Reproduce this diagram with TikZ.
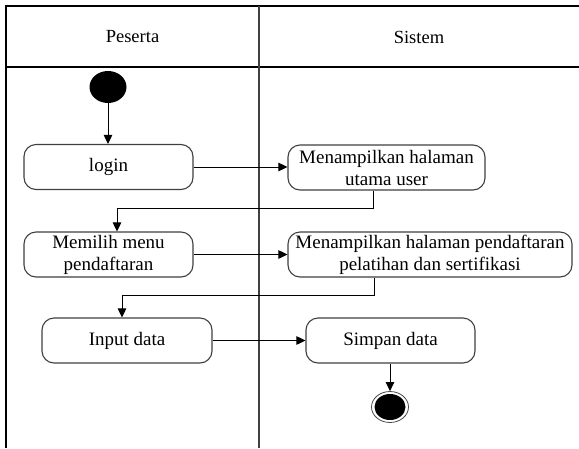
\documentclass[tikz,border=0pt]{standalone}
\usepackage{fontspec}
\setmainfont{Liberation Serif}
\usetikzlibrary{arrows.meta,shapes.geometric}

\tikzset{
  lane/.style={line width=1.3pt, draw=black},
  divider/.style={line width=1.3pt, draw=black!75},
  act/.style={draw=black!75, line width=1.1pt, rounded corners=12pt, fill=white,
              align=center, inner sep=0pt, minimum height=45pt,
              font=\fontsize{19}{22}\selectfont},
  title/.style={font=\fontsize{18.5}{21.5}\selectfont},
  flow/.style={line width=0.9pt, -{Triangle[length=9pt,width=8.5pt]}},
  startnode/.style={ellipse, fill=black, minimum width=37pt, minimum height=32pt, inner sep=0pt},
  endouter/.style={ellipse, draw=black!70, line width=0.8pt, fill=white,
                   minimum width=37pt, minimum height=31pt, inner sep=0pt},
  endinner/.style={ellipse, fill=black, minimum width=31pt, minimum height=26pt, inner sep=0pt}
}

\begin{document}
\begin{tikzpicture}[x=1pt,y=-1pt]
  \useasboundingbox (0,0) rectangle (579,448);

  % swimlane frame
  \draw[lane] (579,6) -- (6,6) -- (6,448);
  \draw[lane] (6,67) -- (579,67);
  \draw[divider] (259,6) -- (259,448);

  \node[title] (hpeserta) at (132.5,37) {Peserta};
  \node[title] (hsistem) at (419,37) {Sistem};

  % activities
  \node[startnode] (start) at (108,87) {};
  \node[act, minimum width=169pt] (login) at (108.5,167) {login};
  \node[act, minimum width=197pt] (utama) at (386.5,167.5) {Menampilkan halaman\\utama user};
  \node[act, minimum width=169pt] (memilih) at (108.5,254.5) {Memilih menu\\pendaftaran};
  \node[act, minimum width=284pt] (daftar) at (430,254.5) {Menampilkan halaman pendaftaran\\pelatihan dan sertifikasi};
  \node[act, minimum width=170pt] (input) at (127,340.5) {Input data};
  \node[act, minimum width=169pt] (simpan) at (390.5,340.5) {Simpan data};
  \node[endouter] (finish) at (390,407) {};
  \node[endinner] (finishdot) at (finish.center) {};

  % control flow
  \draw[flow] (start) -- (start |- login.north);
  \draw[flow] (login.east) -- (login.east -| utama.west);
  \draw[flow] ([xshift=-13.5pt]utama.south) -- ++(0,18) -| ([xshift=8.5pt]memilih.north);
  \draw[flow] (memilih.east) -- (memilih.east -| daftar.west);
  \draw[flow] ([xshift=-56pt]daftar.south) -- ++(0,18) -| ([xshift=-5pt]input.north);
  \draw[flow] (input.east) -- (input.east -| simpan.west);
  \draw[flow] (simpan.south -| finish.north) -- (finish.north);
\end{tikzpicture}
\end{document}
